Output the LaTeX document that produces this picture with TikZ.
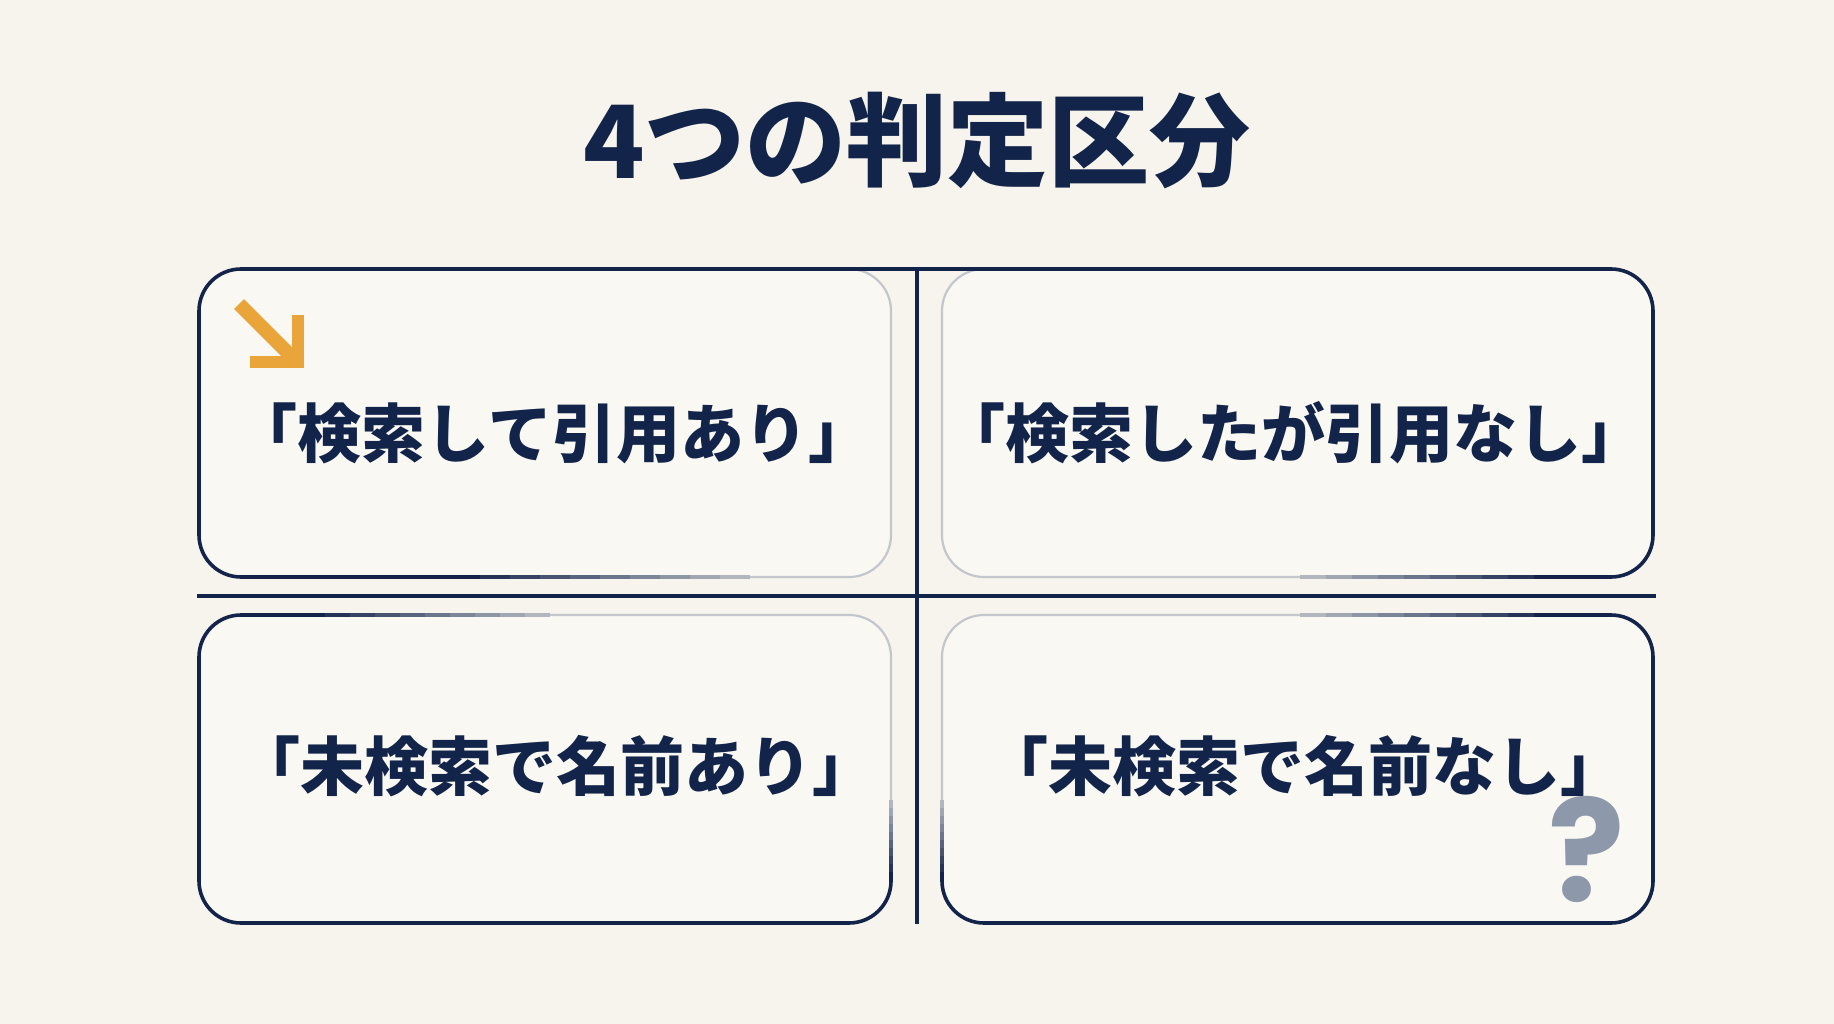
\documentclass[tikz,border=0pt]{standalone}
\usepackage{fontspec}
\setmainfont{Noto Sans CJK JP}
\newfontfamily\qfont{Poppins}
\definecolor{bg}{HTML}{F6F4EC}
\definecolor{boxfill}{HTML}{F9F8F3}
\definecolor{navy}{HTML}{13244A}
\definecolor{faint}{HTML}{C3C6CC}
\definecolor{qgray}{HTML}{8D98AA}
\definecolor{amber}{HTML}{E9A53A}
\begin{document}
\begin{tikzpicture}[x=1pt,y=-1pt,
  cell/.style={draw=faint, line width=2.2pt, fill=boxfill, rounded corners=42pt,
    minimum width=692pt, minimum height=308pt, inner sep=0pt, outer sep=0pt, anchor=north west},
  celltext/.style={text=navy, font=\bfseries\fontsize{64pt}{70pt}\selectfont, inner sep=0pt},
  outline/.style={draw=navy, line width=3.6pt, rounded corners=42pt},
  crossline/.style={draw=navy, line width=4.8pt}]
\fill[bg] (0,0) rectangle (1834,1024);
\useasboundingbox (0,0) rectangle (1834,1024);

% title
\node[text=navy, font=\bfseries\fontsize{101pt}{110pt}\selectfont, inner sep=0pt] (title) at (917,141) {4つの判定区分};

% boxes
\node[cell] (tl) at (199,269) {};
\node[cell, minimum width=711pt] (tr) at (942,269) {};
\node[cell] (bl) at (199,615) {};
\node[cell, minimum width=711pt] (br) at (942,615) {};

% dark outer outlines
\draw[outline] (450,577) -- (tl.south west) -- (tl.north west) -- (tr.north east) -- (tr.south east) -- (1560,577);
\draw[outline] (300,615) -- (bl.north west) -- (bl.south west) -- (bl.south east) -- (891,880);
\draw[outline] (942,880) -- (br.south west) -- (br.south east) -- (br.north east) -- (1560,615);

% fades
\foreach \i in {0,...,9}{
  \pgfmathsetmacro\pc{100-10*\i}
  \draw[draw=navy!\pc!faint, line width=3.2pt] (450+30*\i,577) -- (480+30*\i,577);
  \draw[draw=navy!\pc!faint, line width=3.2pt] (1560-26*\i,577) -- (1534-26*\i,577);
  \draw[draw=navy!\pc!faint, line width=3.2pt] (300+25*\i,615) -- (325+25*\i,615);
  \draw[draw=navy!\pc!faint, line width=3.2pt] (1560-26*\i,615) -- (1534-26*\i,615);
  \draw[draw=navy!\pc!faint, line width=3.2pt] (891,880-8*\i) -- (891,872-8*\i);
  \draw[draw=navy!\pc!faint, line width=3.2pt] (942,880-8*\i) -- (942,872-8*\i);
}

% cross lines
\coordinate (vtop) at (917,269);
\coordinate (vbot) at (917,924);
\coordinate (hleft) at (197,596);
\coordinate (hright) at (1656,596);
\draw[crossline] (vtop) -- (vbot);
\draw[crossline] (hleft) -- (hright);

% texts
\node[celltext] (t1) at (553,433) {「検索して引用あり」};
\node[celltext] (t2) at (1293,433) {「検索したが引用なし」};
\node[celltext] (t3) at (556,766) {「未検索で名前あり」};
\node[celltext] (t4) at (1304,766) {「未検索で名前なし」};

% arrow icon
\draw[amber, line width=14pt] (239,304) -- (293,358);
\draw[amber, line width=12pt, line join=miter] (250,362) -- (298,362) -- (298,315);

% question mark
\node[text=qgray, font=\qfont\bfseries\fontsize{142pt}{142pt}\selectfont, inner sep=0pt] (q) at (1587,849) {?};
\end{tikzpicture}
\end{document}
